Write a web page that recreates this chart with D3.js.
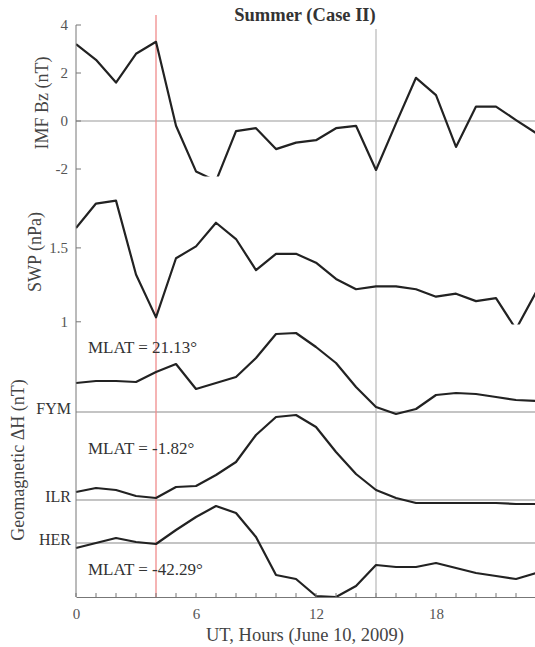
<!DOCTYPE html>
<head>
    <meta charset="utf-8">
    <script src="https://d3js.org/d3.v7.min.js"></script>
    <style>
        body { margin: 0; background: #fff; }
        text { font-family: 'Liberation Serif', 'DejaVu Serif', serif; }
    </style>
</head>
<body>
<div id='container'></div>
<script>
    // hourly UT, June 10 2009
    const hours = d3.range(0, 24);
    const imfBz = [3.2, 2.55, 1.6, 2.8, 3.3, -0.2, -2.1, -2.5, -0.42, -0.3, -1.17, -0.9, -0.8, -0.3, -0.2, -2.04,
                   -0.1, 1.8, 1.08, -1.08, 0.6, 0.6, 0.04, -0.5];
    const swp = [1.635, 1.8, 1.82, 1.32, 1.03, 1.43, 1.51, 1.67, 1.56, 1.35, 1.46, 1.46, 1.4, 1.29, 1.22, 1.24,
                 1.24, 1.22, 1.17, 1.19, 1.14, 1.16, 0.95, 1.2];
    // geomagnetic dH per station, nT, relative to each station baseline
    const stations = ['FYM', 'ILR', 'HER'];
    const stationOffset = [0, -88, -131];
    const stationMlat = ['MLAT = 21.13\u00B0', 'MLAT = -1.82\u00B0', 'MLAT = -42.29\u00B0'];
    const dhFYM = [29, 31, 31, 30, 40, 48, 23, 29, 35, 54, 78, 79, 65, 49, 25, 5, -2, 3, 17, 19, 18, 15, 12, 11];
    const dhILR = [8, 12, 10, 4, 2, 13, 14, 25, 38, 65, 83, 85, 73, 48, 26, 10, 2, -3, -3, -3, -3, -3, -4, -4];
    const dhHER = [-5, 0, 5, 1, -1, 13, 26, 37, 30, 6, -32, -36, -53, -54, -43, -22, -24, -24, -20, -25, -30, -33, -36, -30];
    const dh = [dhFYM, dhILR, dhHER];
    const bzTicks = [4, 2, 0, -2];
    const swpTicks = [1.5, 1];
    const xTicks = [0, 6, 12, 18];
    const markHours = [4, 15];

    const w = 535, h = 647;
    const left = 76, right = 536, bottom = 597;

    const svg = d3.select('#container').append('svg')
        .attr('width', w).attr('height', h);

    const x = d3.scaleLinear().domain([0, 23]).range([left, right]);
    const yBz = d3.scaleLinear().domain([-2.3, 4]).range([176.2, 25]);
    const ySwp = d3.scaleLinear().domain([0.985, 2]).range([324, 174]);
    const yDh = d3.scaleLinear().domain([-185, 88]).range([bottom, 324]);

    const clip = (id, y0, y1) => {
        svg.append('clipPath').attr('id', id).append('rect')
            .attr('x', left).attr('y', y0).attr('width', right - left).attr('height', y1 - y0);
    };
    clip('c1', 25, 176.5);
    clip('c2', 177, 324.5);

    // baselines
    svg.append('line').attr('x1', left).attr('x2', right)
        .attr('y1', yBz(0)).attr('y2', yBz(0))
        .attr('stroke', '#9a9a9a').attr('stroke-width', 1.2);
    stations.forEach((s, i) => {
        svg.append('line').attr('x1', left).attr('x2', right)
            .attr('y1', yDh(stationOffset[i])).attr('y2', yDh(stationOffset[i]))
            .attr('stroke', '#8a8a8a').attr('stroke-width', 1.2);
    });

    // event markers
    svg.append('line').attr('x1', x(markHours[0])).attr('x2', x(markHours[0]))
        .attr('y1', 15).attr('y2', bottom)
        .attr('stroke', '#f08c8c').attr('stroke-width', 1.3);
    svg.append('line').attr('x1', x(markHours[1])).attr('x2', x(markHours[1]))
        .attr('y1', 29).attr('y2', bottom)
        .attr('stroke', '#bdbdbd').attr('stroke-width', 1.3);

    const line = (yScale) => d3.line().x((d, i) => x(hours[i])).y(d => yScale(d));
    const lineStyle = (p) => p.attr('fill', 'none').attr('stroke', '#222')
        .attr('stroke-width', 2.2).attr('stroke-linejoin', 'round');

    svg.append('path').datum(imfBz).attr('d', line(yBz)).attr('clip-path', 'url(#c1)').call(lineStyle);
    svg.append('path').datum(swp).attr('d', line(ySwp)).attr('clip-path', 'url(#c2)').call(lineStyle);
    dh.forEach((vals, i) => {
        svg.append('path').datum(vals.map(v => v + stationOffset[i]))
            .attr('d', line(yDh)).call(lineStyle);
    });

    // axes
    const gL = svg.append('g').attr('transform', 'translate(' + left + ',0)');
    gL.append('line').attr('y1', 25).attr('y2', bottom).attr('stroke', '#777');
    const yTick = (g, yScale, vals) => {
        vals.forEach(v => {
            g.append('line').attr('x1', 0).attr('x2', 5).attr('y1', yScale(v)).attr('y2', yScale(v))
                .attr('stroke', '#777');
            g.append('text').attr('x', -8).attr('y', yScale(v)).attr('dy', '0.35em')
                .attr('text-anchor', 'end').attr('font-size', 15).attr('fill', '#555').text(v);
        });
    };
    yTick(gL, yBz, bzTicks);
    yTick(gL, ySwp, swpTicks);
    stations.forEach((s, i) => {
        gL.append('text').attr('x', -5).attr('y', yDh(stationOffset[i]) - 4).attr('dy', '0.35em')
            .attr('text-anchor', 'end').attr('font-size', 16).attr('fill', '#333').text(s);
    });

    const xAxis = d3.axisBottom(x).tickValues(xTicks).tickSize(0).tickPadding(11).tickFormat(d3.format('d'));
    const gx = svg.append('g').attr('transform', 'translate(0,' + bottom + ')').call(xAxis);
    gx.select('.domain').attr('stroke', '#777');
    gx.selectAll('text').attr('font-size', 15).attr('fill', '#555')
        .attr('font-family', "'Liberation Serif', serif");
    hours.forEach(hr => {
        gx.append('line').attr('x1', x(hr)).attr('x2', x(hr)).attr('y1', 0).attr('y2', -4).attr('stroke', '#777');
    });

    // labels
    svg.append('text').attr('x', 305).attr('y', 21).attr('text-anchor', 'middle')
        .attr('font-size', 18.5).attr('font-weight', 'bold').attr('fill', '#333').text('Summer (Case II)');
    svg.append('text').attr('x', 305).attr('y', 641).attr('text-anchor', 'middle')
        .attr('font-size', 18.5).attr('fill', '#444').text('UT, Hours (June 10, 2009)');
    const yLabel = (txt, cx, cy) => {
        svg.append('text').attr('transform', 'translate(' + cx + ',' + cy + ') rotate(-90)')
            .attr('text-anchor', 'middle').attr('font-size', 18).attr('fill', '#444').text(txt);
    };
    yLabel('IMF Bz (nT)', 48, 103);
    yLabel('SWP (nPa)', 41, 252);
    yLabel('Geomagnetic \u0394H (nT)', 24, 460);

    const mlatY = [353, 454, 575];
    stationMlat.forEach((t, i) => {
        svg.append('text').attr('x', 88).attr('y', mlatY[i]).attr('font-size', 17)
            .attr('fill', '#333').text(t);
    });
</script>
</body>
